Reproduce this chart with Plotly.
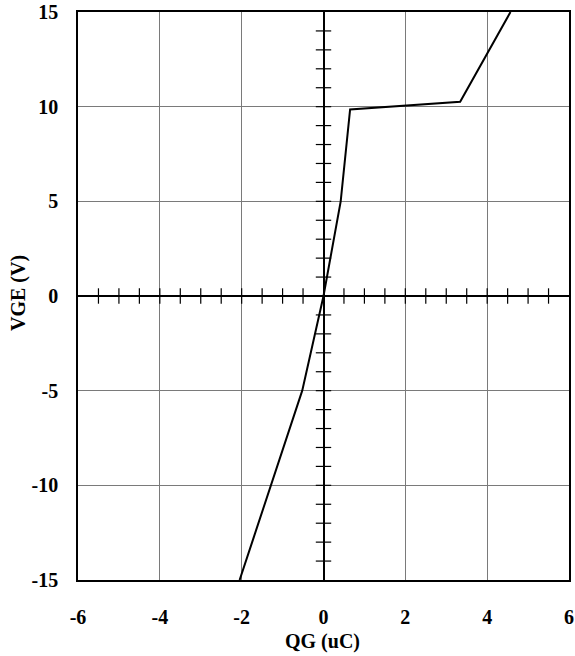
import numpy as np
import plotly.graph_objects as go

# Data
qg = [-2.05, -0.52, 0.0, 0.42, 0.65, 3.34, 4.57]
vge = [-15.0, -5.0, 0.0, 5.0, 9.85, 10.26, 15.0]

x_ticks = [-6, -4, -2, 0, 2, 4, 6]
y_ticks = [-15, -10, -5, 0, 5, 10, 15]
x_minor = [v for v in np.arange(-5.5, 6.0, 0.5) if abs(v) > 1e-9]
y_minor = [v for v in np.arange(-14, 15, 1) if v != 0]
x_title = "QG (uC)"
y_title = "VGE (V)"

font_family = "Liberation Serif"
W, H = 575, 656
ML, MR, MT, MB = 78, 6, 12, 76

fig = go.Figure()

# minor crosses along the zero lines
fig.add_trace(go.Scatter(
    x=x_minor, y=[0] * len(x_minor), mode="markers",
    marker=dict(symbol="line-ns", size=11, line=dict(color="black", width=1.2)),
    hoverinfo="skip", showlegend=False))
fig.add_trace(go.Scatter(
    x=[0] * len(y_minor), y=y_minor, mode="markers",
    marker=dict(symbol="line-ew", size=11, line=dict(color="black", width=1.2)),
    hoverinfo="skip", showlegend=False))

fig.add_trace(go.Scatter(
    x=qg, y=vge, mode="lines",
    line=dict(color="black", width=2),
    showlegend=False))

tf = dict(family=font_family, size=20, color="black", weight=700)

fig.update_layout(
    width=W, height=H,
    margin=dict(l=ML, r=MR, t=MT, b=MB, autoexpand=False),
    paper_bgcolor="white", plot_bgcolor="white",
    font=tf,
    showlegend=False,
)
fig.update_xaxes(
    range=[-6, 6], tickvals=x_ticks, ticktext=["<b>%d</b>" % v for v in x_ticks],
    showgrid=True, gridcolor="#7a7a7a", gridwidth=1.3,
    zeroline=True, zerolinecolor="black", zerolinewidth=1.5,
    showline=True, linecolor="black", linewidth=1.5, mirror=True,
    ticks="", ticklabelstandoff=18, automargin=False,
    tickfont=tf,
)
fig.update_yaxes(
    range=[-15, 15], tickvals=y_ticks, ticktext=["<b>%d</b>" % v for v in y_ticks],
    showgrid=True, gridcolor="#7a7a7a", gridwidth=1.3,
    zeroline=True, zerolinecolor="black", zerolinewidth=1.5,
    showline=True, linecolor="black", linewidth=1.5, mirror=True,
    ticks="", ticklabelstandoff=14, automargin=False,
    tickfont=tf,
)

plot_w = W - ML - MR
plot_h = H - MT - MB
fig.add_annotation(
    text="<b>%s</b>" % x_title, xref="paper", yref="paper",
    x=(322 - ML) / plot_w, y=-(641 - (H - MB)) / plot_h,
    xanchor="center", yanchor="middle", showarrow=False, font=tf)
fig.add_annotation(
    text="<b>%s</b>" % y_title, xref="paper", yref="paper",
    x=-(ML - 18) / plot_w, y=(H - MB - 293) / plot_h, textangle=-90,
    xanchor="center", yanchor="middle", showarrow=False, font=tf)

fig.write_html("out.html")
